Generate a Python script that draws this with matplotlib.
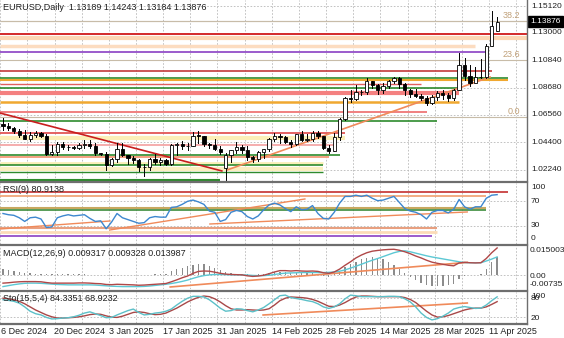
import numpy as np
import matplotlib.pyplot as plt
from matplotlib.patches import Rectangle

plt.rcParams['font.family'] = ['Liberation Sans', 'DejaVu Sans']

# EURUSD daily bars, 6 Dec 2024 .. 14 Apr 2025 (bar 0 = 6 Dec)
opens = [1.0587, 1.0566, 1.0554, 1.0527, 1.0502, 1.0467, 1.0500, 1.0513, 1.0490, 1.0353,
         1.0363, 1.0430, 1.0406, 1.0407, 1.0400, 1.0422, 1.0427, 1.0414, 1.0354, 1.0351,
         1.0266, 1.0307, 1.0388, 1.0342, 1.0319, 1.0300, 1.0244, 1.0245, 1.0307, 1.0289,
         1.0302, 1.0272, 1.0417, 1.0428, 1.0410, 1.0413, 1.0494, 1.0493, 1.0428, 1.0421,
         1.0392, 1.0242, 1.0345, 1.0379, 1.0404, 1.0383, 1.0329, 1.0307, 1.0362, 1.0385,
         1.0465, 1.0491, 1.0482, 1.0445, 1.0424, 1.0503, 1.0459, 1.0464, 1.0514, 1.0487,
         1.0398, 1.0375, 1.0484, 1.0625, 1.0790, 1.0785, 1.0833, 1.0834, 1.0919, 1.0889,
         1.0851, 1.0881, 1.0923, 1.0946, 1.0899, 1.0852, 1.0817, 1.0801, 1.0791, 1.0753,
         1.0800, 1.0828, 1.0815, 1.0792, 1.0851, 1.1050, 1.0961, 1.0909, 1.0957, 1.0951,
         1.1196, 1.13189]
highs = [1.0630, 1.0595, 1.0563, 1.0544, 1.0538, 1.0524, 1.0533, 1.0520, 1.0507, 1.0419,
         1.0444, 1.0446, 1.0417, 1.0410, 1.0432, 1.0456, 1.0457, 1.0437, 1.0360, 1.0367,
         1.0319, 1.0437, 1.0436, 1.0343, 1.0332, 1.0313, 1.0269, 1.0320, 1.0353, 1.0318,
         1.0310, 1.0430, 1.0436, 1.0453, 1.0433, 1.0521, 1.0533, 1.0494, 1.0433, 1.0467,
         1.0410, 1.0355, 1.0383, 1.0442, 1.0417, 1.0412, 1.0337, 1.0373, 1.0392, 1.0472,
         1.0513, 1.0506, 1.0490, 1.0457, 1.0505, 1.0528, 1.0505, 1.0527, 1.0529, 1.0490,
         1.0417, 1.0513, 1.0630, 1.0796, 1.0854, 1.0888, 1.0852, 1.0947, 1.0923, 1.0902,
         1.0908, 1.0933, 1.0955, 1.0951, 1.0903, 1.0861, 1.0858, 1.0823, 1.0803, 1.0814,
         1.0847, 1.0855, 1.0826, 1.0862, 1.1144, 1.1106, 1.1048, 1.1035, 1.1099, 1.1214,
         1.1473, 1.14243]
lows = [1.0541, 1.0536, 1.0512, 1.0482, 1.0467, 1.0454, 1.0483, 1.0479, 1.0343, 1.0344,
        1.0343, 1.0389, 1.0380, 1.0390, 1.0390, 1.0400, 1.0394, 1.0344, 1.0340, 1.0226,
        1.0251, 1.0286, 1.0337, 1.0272, 1.0282, 1.0215, 1.0178, 1.0222, 1.0271, 1.0265,
        1.0265, 1.0266, 1.0340, 1.0390, 1.0379, 1.0412, 1.0435, 1.0410, 1.0396, 1.0381,
        1.0353, 1.0141, 1.0288, 1.0360, 1.0355, 1.0300, 1.0284, 1.0294, 1.0316, 1.0375,
        1.0455, 1.0439, 1.0435, 1.0401, 1.0420, 1.0449, 1.0450, 1.0449, 1.0472, 1.0389,
        1.0360, 1.0373, 1.0460, 1.0616, 1.0761, 1.0776, 1.0812, 1.0820, 1.0868, 1.0819,
        1.0832, 1.0870, 1.0905, 1.0870, 1.0810, 1.0797, 1.0797, 1.0777, 1.0733, 1.0744,
        1.0776, 1.0778, 1.0766, 1.0774, 1.0849, 1.0931, 1.0880, 1.0913, 1.0945, 1.0945,
        1.1195, 1.13184]
closes = [1.0566, 1.0554, 1.0527, 1.0502, 1.0467, 1.0500, 1.0513, 1.0490, 1.0353, 1.0363,
          1.0430, 1.0406, 1.0407, 1.0400, 1.0422, 1.0427, 1.0414, 1.0354, 1.0351, 1.0266,
          1.0307, 1.0388, 1.0342, 1.0319, 1.0300, 1.0244, 1.0245, 1.0307, 1.0289, 1.0302,
          1.0272, 1.0417, 1.0428, 1.0410, 1.0413, 1.0494, 1.0493, 1.0428, 1.0421, 1.0392,
          1.0362, 1.0345, 1.0379, 1.0404, 1.0383, 1.0329, 1.0307, 1.0362, 1.0385, 1.0465,
          1.0491, 1.0482, 1.0445, 1.0424, 1.0503, 1.0459, 1.0464, 1.0514, 1.0487, 1.0398,
          1.0375, 1.0484, 1.0625, 1.0790, 1.0785, 1.0833, 1.0834, 1.0919, 1.0889, 1.0851,
          1.0881, 1.0923, 1.0946, 1.0899, 1.0852, 1.0817, 1.0801, 1.0791, 1.0753, 1.0800,
          1.0828, 1.0815, 1.0792, 1.0851, 1.1050, 1.0961, 1.0909, 1.0957, 1.0951, 1.1196,
          1.1357, 1.13876]

rsi = [50, 48, 47, 43, 37, 43, 44, 41, 27, 28, 43, 46, 48, 46, 47, 48, 42, 37, 38, 25,
       36, 50, 43, 40, 37, 34, 35, 43, 45, 44, 44, 60, 61, 65, 70, 72, 69, 65, 54, 52,
       37, 40, 52, 55, 53, 45, 41, 46, 56, 64, 67, 64, 58, 53, 61, 56, 57, 63, 50, 42,
       41, 52, 67, 78, 78, 80, 78, 80, 75, 71, 72, 75, 78, 68, 58, 54, 52, 48, 41, 52,
       55, 55, 51, 57, 73, 61, 57, 61, 61, 75, 80, 80.9138]

macd_main = [-0.0043, -0.0041, -0.0038, -0.0036, -0.0035, -0.0035, -0.0035, -0.0036, -0.0040, -0.0043,
             -0.0043, -0.0043, -0.0043, -0.0043, -0.0042, -0.0042, -0.0043, -0.0045, -0.0046, -0.0050,
             -0.0051, -0.0049, -0.0050, -0.0051, -0.0052, -0.0054, -0.0053, -0.0051, -0.0049, -0.0047,
             -0.0045, -0.0036, -0.0026, -0.0015, -0.0006, 0.0008, 0.0018, 0.0020, 0.0019, 0.0014,
             0.0008, 0.0004, 0.0002, 0.0001, 0.0000, -0.0005, -0.0008, -0.0006, -0.0002, 0.0006,
             0.0015, 0.0022, 0.0022, 0.0020, 0.0022, 0.0020, 0.0019, 0.0020, 0.0018, 0.0011,
             0.0008, 0.0015, 0.0030, 0.0050, 0.0068, 0.0088, 0.0103, 0.0115, 0.0123, 0.0127,
             0.0130, 0.0132, 0.0133, 0.0128, 0.0120, 0.0110, 0.0098, 0.0088, 0.0076, 0.0066,
             0.0060, 0.0055, 0.0050, 0.0047, 0.0062, 0.0065, 0.0063, 0.0062, 0.0063, 0.0085,
             0.0115, 0.013987]
macd_signal = [-0.0061, -0.0056, -0.0051, -0.0047, -0.0044, -0.0043, -0.0043, -0.0044, -0.0046, -0.0048,
               -0.0050, -0.0051, -0.0052, -0.0052, -0.0052, -0.0052, -0.0052, -0.0053, -0.0055, -0.0057,
               -0.0059, -0.0060, -0.0061, -0.0061, -0.0061, -0.0061, -0.0060, -0.0058, -0.0055, -0.0052,
               -0.0049, -0.0045, -0.0040, -0.0034, -0.0027, -0.0018, -0.0010, -0.0004, 0.0000, 0.0002,
               0.0002, 0.0001, 0.0000, 0.0000, 0.0000, -0.0001, -0.0003, -0.0004, -0.0004, -0.0002,
               0.0002, 0.0006, 0.0009, 0.0010, 0.0011, 0.0012, 0.0012, 0.0012, 0.0012, 0.0012,
               0.0013, 0.0015, 0.0019, 0.0026, 0.0035, 0.0045, 0.0055, 0.0066, 0.0076, 0.0085,
               0.0095, 0.0105, 0.0115, 0.0122, 0.0125, 0.0120, 0.0113, 0.0106, 0.0099, 0.0093,
               0.0088, 0.0083, 0.0078, 0.0073, 0.0068, 0.0064, 0.0063, 0.0063, 0.0063, 0.0072,
               0.0082, 0.009328]
macd_hist = [0.0028, 0.0026, 0.0022, 0.0017, 0.0012, 0.0009, 0.0007, 0.0005, 0.0004, 0.0003,
             0.0003, 0.0003, 0.0002, 0.0002, 0.0002, 0.0002, 0.0001, 0.0000, -0.0002, -0.0003,
             -0.0004, -0.0003, -0.0002, -0.0002, -0.0003, -0.0003, -0.0002, -0.0001, 0.0002, 0.0003,
             0.0004, 0.0018, 0.0028, 0.0038, 0.0045, 0.0052, 0.0058, 0.0055, 0.0048, 0.0038,
             0.0025, 0.0015, 0.0010, 0.0006, 0.0004, 0.0002, 0.0001, 0.0003, 0.0006, 0.0010,
             0.0014, 0.0015, 0.0013, 0.0011, 0.0012, 0.0010, 0.0008, 0.0009, 0.0006, -0.0004,
             -0.0010, 0.0002, 0.0020, 0.0040, 0.0055, 0.0068, 0.0080, 0.0090, 0.0095, 0.0090,
             0.0080, 0.0065, 0.0050, 0.0030, 0.0010, -0.0010, -0.0025, -0.0040, -0.0052, -0.0058,
             -0.0060, -0.0058, -0.0052, -0.0045, -0.0020, -0.0005, 0.0000, 0.0000, 0.0005, 0.0030,
             0.0065, 0.009317]

sto_k = [75, 73, 70, 64, 52, 38, 30, 26, 18, 13, 14, 16, 17, 20, 25, 32, 36, 30, 24, 17,
         18, 26, 33, 40, 45, 34, 26, 28, 32, 34, 38, 45, 58, 70, 80, 86, 86, 84, 75, 62,
         48, 38, 40, 46, 45, 40, 36, 42, 50, 62, 75, 88, 90, 82, 79, 76, 72, 69, 62, 52,
         47, 52, 62, 78, 90, 88, 85, 85, 85, 85, 85, 86, 86, 85, 78, 68, 52, 32, 18, 10,
         14, 22, 32, 45, 50, 53, 50, 47, 48, 58, 72, 84.3351]
sto_d = [80, 78, 75, 70, 62, 52, 42, 34, 26, 20, 16, 16, 17, 18, 20, 23, 27, 29, 28, 23,
         19, 18, 22, 28, 34, 36, 34, 30, 27, 28, 32, 40, 48, 58, 68, 76, 83, 87, 85, 78,
         68, 56, 46, 42, 42, 43, 42, 41, 42, 46, 58, 72, 80, 84, 83, 82, 80, 76, 70, 62,
         54, 53, 58, 66, 76, 84, 87, 87, 86, 85, 85, 85, 85, 85, 82, 76, 66, 52, 38, 26,
         19, 20, 24, 30, 36, 42, 46, 48, 48, 52, 60, 68.9232]

date_labels = ['6 Dec 2024', '20 Dec 2024', '3 Jan 2025', '17 Jan 2025', '31 Jan 2025',
               '14 Feb 2025', '28 Feb 2025', '14 Mar 2025', '28 Mar 2025', '11 Apr 2025']
price_ticks = [1.15120, 1.13000, 1.10840, 1.08680, 1.06560, 1.04400, 1.02240]

# drawn levels on the price window: price, colour, width, last bar
levels = [
    (1.1395, '#c8bca8', 0.8, 97), (1.1392, '#c8bca8', 0.8, 97),
    (1.1295, '#d42a2a', 1.4, 97), (1.1257, '#fcd7b4', 3.0, 97),
    (1.1198, '#fcdcc0', 2.5, 87), (1.1151, '#8a3fc4', 1.2, 89),
    (1.1088, '#c8bca8', 0.8, 97), (1.1001, '#c43a3a', 1.2, 90),
    (1.0946, '#2e8b2e', 1.2, 93), (1.0927, '#f0a830', 1.5, 93),
    (1.0899, '#e06060', 1.0, 77), (1.0868, '#2e8b2e', 1.2, 84),
    (1.0825, '#f48080', 3.0, 84), (1.0758, '#f0a830', 1.8, 84),
    (1.0679, '#f08080', 1.4, 78), (1.0640, '#c8bca8', 0.8, 97),
    (1.0609, '#2e8b2e', 1.2, 80), (1.0514, '#e04848', 1.2, 63),
    (1.0471, '#fbefb8', 3.0, 63), (1.0420, '#f4a0a0', 1.2, 61),
    (1.0342, '#2e8b2e', 1.2, 62), (1.0326, '#f4a080', 1.4, 60),
    (1.0279, '#fbefb8', 2.0, 59), (1.0263, '#2e8b2e', 1.2, 59),
    (1.0228, '#fbefc0', 3.0, 59), (1.0208, '#2e8b2e', 1.0, 59),
    (1.0145, '#2e8b2e', 1.5, 40),
]
# trend lines: (bar, price) pairs
trend_red = ([-0.55, 40.3], [1.0671, 1.0216])
trend_orange = ([41.3, 89.7], [1.0224, 1.0954])

rsi_levels = [(85, '#c43030', 1.2, 93), (79, '#f0a070', 1.2, 89), (59, '#c8a860', 1.5, 89),
              (56, '#3c8c3c', 1.2, 89), (26, '#e8a080', 1.5, 80), (20, '#fcdcb8', 2.0, 80),
              (13, '#8a3fc4', 1.2, 79)]
rsi_trends = [([-0.55, 19.7], [24.6, 37.7]), ([19.7, 55.6], [23, 73.8]), ([38.1, 85.5], [32.8, 52.5])]
macd_trend = ([30.8, 85.5], [-0.0063, 0.0065])
sto_trend = ([47.9, 85.5], [25.8, 64.5])

W, H = 564, 338
fig = plt.figure(figsize=(W / 100, H / 100), dpi=100)
fig.patch.set_facecolor('white')


def pane(top, bottom):
    ax = fig.add_axes([0, 1 - bottom / H, 527 / W, (bottom - top) / H])
    ax.set_xlim(-0.55, 96.5)
    ax.set_xticks([])
    ax.set_yticks([])
    for s in ax.spines.values():
        s.set_visible(False)
    for k in range(0, 20):
        ax.axvline(5 * k - 0.5, color='#b8b8b8', lw=0.6, ls=(0, (2, 2)), zorder=0)
    return ax


x = np.arange(len(closes))
grid_kw = dict(color='#b8b8b8', lw=0.6, ls=(0, (2, 2)), zorder=0)
lab_kw = dict(fontsize=6, color='#202020', va='center', ha='left')

# price window
ax = pane(0, 181)
ax.set_ylim(1.0137, 1.1559)
for p in price_ticks:
    ax.axhline(p, **grid_kw)
for p, c, w, end in levels:
    ax.plot([-0.55, end], [p, p], color=c, lw=w, zorder=1, solid_capstyle='butt')
ax.plot(*trend_red, color='#c81e1e', lw=1.2, zorder=2)
ax.plot(*trend_orange, color='#f08a5a', lw=1.2, zorder=2)
for i in x:
    o, h, l, c = opens[i], highs[i], lows[i], closes[i]
    ax.plot([i, i], [l, h], color='black', lw=0.7, zorder=3)
    top, bot = max(o, c), min(o, c)
    ax.add_patch(Rectangle((i - 0.3, bot), 0.6, max(top - bot, 0.00015),
                           facecolor='white' if c >= o else 'black',
                           edgecolor='black', lw=0.6, zorder=4))
ax.text(0.005, 0.985, 'EURUSD,Daily  1.13189 1.14243 1.13184 1.13876', transform=ax.transAxes,
        fontsize=6.5, va='top', ha='left', color='#202020')
for p, t in [(1.1395, '38.2'), (1.1088, '23.6'), (1.0640, '0.0')]:
    ax.text(95.3, p + 0.0006, t, fontsize=6.5, color='#c0a078', ha='right', va='bottom')
for p in price_ticks:
    fig.text(531 / W, 1 - (6 + (1.1512 - p) * 1273) / H, '%.5f' % p, **lab_kw)

# RSI window
ax2 = pane(183, 244)
ax2.set_ylim(0, 100)
for v in (70, 30):
    ax2.axhline(v, **grid_kw)
for v, c, w, end in rsi_levels:
    ax2.plot([-0.55, end], [v, v], color=c, lw=w, zorder=1, solid_capstyle='butt')
for tx, ty in rsi_trends:
    ax2.plot(tx, ty, color='#f08a5a', lw=1.0, zorder=2)
ax2.plot(x, rsi, color='#3d87cf', lw=1.0, zorder=3)
ax2.text(0.005, 0.96, 'RSI(9) 80.9138', transform=ax2.transAxes, fontsize=6.5, va='top',
         color='#202020')
for v, t in [(100, '100'), (70, '70'), (30, '30'), (0, '0')]:
    yy = 244 - 0.61 * v
    yy = min(max(yy, 188), 239)
    fig.text(531 / W, 1 - yy / H, t, **lab_kw)

# MACD window
ax3 = pane(246, 289)
ax3.set_ylim(-0.00735, 0.015003)
ax3.axhline(0, **grid_kw)
ax3.bar(x, macd_hist, width=0.25, color='#8c8c8c', zorder=2)
ax3.plot(*macd_trend, color='#f08a5a', lw=1.2, zorder=2)
ax3.plot(x, macd_signal, color='#5cc8d4', lw=1.0, zorder=3)
ax3.plot(x, macd_main, color='#b04848', lw=1.0, zorder=3)
ax3.text(0.005, 0.94, 'MACD(12,26,9) 0.009317 0.009328 0.013987', transform=ax3.transAxes,
         fontsize=6.5, va='top', color='#202020')
for yy, t in [(251, '0.015003'), (276, '0.00'), (284, '-0.00735')]:
    fig.text(530 / W, 1 - yy / H, t, **lab_kw)

# Stochastic window
ax4 = pane(292, 323)
ax4.set_ylim(0, 100)
for v in (80, 20):
    ax4.axhline(v, **grid_kw)
ax4.plot(*sto_trend, color='#f08a5a', lw=1.2, zorder=2)
ax4.plot(x, sto_d, color='#a84848', lw=1.0, zorder=3)
ax4.plot(x, sto_k, color='#5cc0c8', lw=1.0, zorder=3)
ax4.text(0.005, 0.93, 'Sto(15,5,4) 84.3351 68.9232', transform=ax4.transAxes, fontsize=6.5,
         va='top', color='#202020')
for yy, t in [(296, '100'), (299, '80'), (318, '20')]:
    fig.text(531 / W, 1 - yy / H, t, **lab_kw)

# window separators and the right scale border
for yy in (181.5, 245, 290.5, 323.5):
    fig.add_artist(plt.Line2D([0, 527 / W], [1 - yy / H] * 2, color='#6e6e6e', lw=1.6))
fig.add_artist(plt.Line2D([527 / W] * 2, [1 - 324 / H, 1], color='#6e6e6e', lw=1.0))

# current bid marker
fig.add_artist(Rectangle((528 / W, 1 - 27 / H), 35 / W, 11 / H, color='black',
                         transform=fig.transFigure))
fig.text(530 / W, 1 - 21.5 / H, '1.13876', fontsize=6, color='white', va='center', ha='left')

# date axis
for k, t in enumerate(date_labels):
    xp = 3 + 5.43 * (10 * k) - 3
    fig.text(max(xp, 1) / W, 1 - 331 / H, t, fontsize=6.5, color='#202020', va='center', ha='left')

fig.savefig('out.png', dpi=100)
